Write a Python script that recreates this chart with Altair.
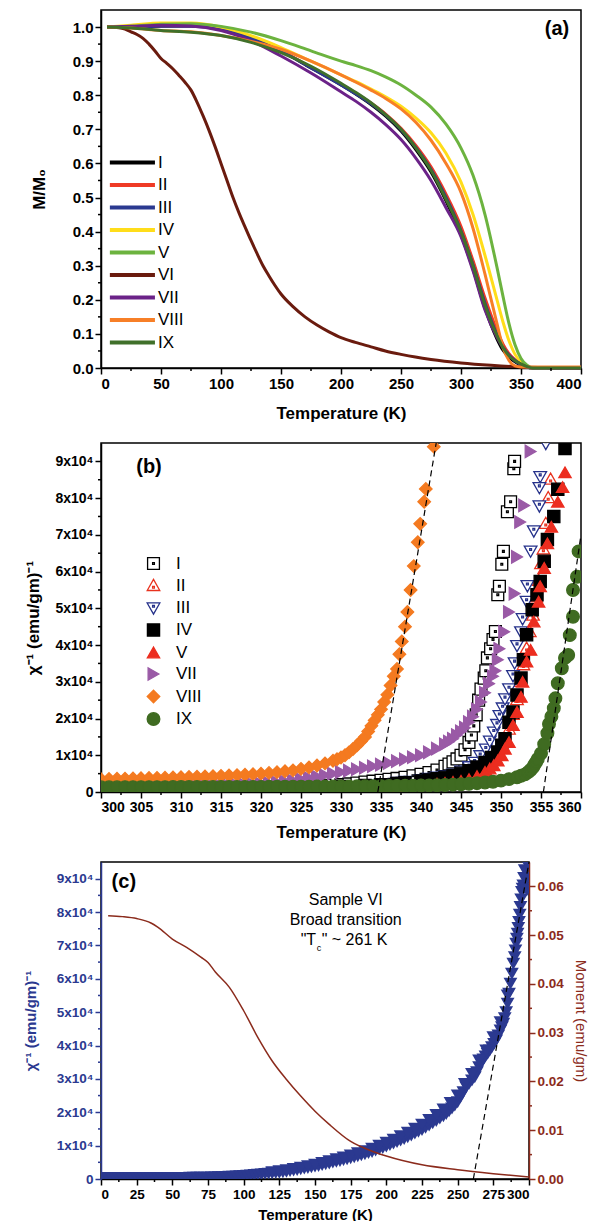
import altair as alt
import pandas as pd

FONT = "Liberation Sans"

# ================= Panel (a): M/M0 vs temperature =================
NAMES_A = ["I", "II", "III", "IV", "V", "VI", "VII", "VIII", "IX"]
COLORS_A = ["#000000", "#ef3a25", "#2a3990", "#ffdd1a", "#6cb33f", "#6a1b0e", "#6b2288", "#f77f27", "#40702a"]
T_A = [5, 25, 50, 75, 100, 125, 150, 175, 200, 212.5, 225, 237.5, 250, 262.5, 275, 287.5, 300, 310, 320, 330, 335, 340,
       345, 350, 355, 360, 380, 400]
M_I = [1.000, 1.000, 1.003, 1.004, 0.995, 0.968, 0.930, 0.880, 0.830, 0.803, 0.773, 0.738, 0.695, 0.640, 0.575, 0.490,
       0.390, 0.290, 0.175, 0.085, 0.052, 0.032, 0.018, 0.008, 0.002, 0.000, 0.000, 0.000]
M_II = [1.000, 1.000, 1.003, 1.003, 0.994, 0.968, 0.930, 0.882, 0.832, 0.806, 0.777, 0.744, 0.703, 0.652, 0.590, 0.510,
        0.415, 0.315, 0.205, 0.110, 0.070, 0.042, 0.024, 0.011, 0.003, 0.000, 0.000, 0.000]
M_III = [1.000, 1.000, 1.002, 1.002, 0.993, 0.967, 0.929, 0.880, 0.830, 0.804, 0.775, 0.741, 0.699, 0.646, 0.582, 0.500,
         0.402, 0.302, 0.190, 0.097, 0.061, 0.037, 0.021, 0.009, 0.002, 0.000, 0.000, 0.000]
M_IV = [1.000, 1.005, 1.012, 1.012, 1.000, 0.975, 0.940, 0.900, 0.860, 0.840, 0.818, 0.795, 0.768, 0.733, 0.690, 0.630,
        0.545, 0.450, 0.330, 0.200, 0.135, 0.080, 0.040, 0.017, 0.005, 0.000, 0.000, 0.000]
M_V = [1.000, 1.002, 1.008, 1.010, 1.002, 0.985, 0.960, 0.930, 0.900, 0.887, 0.872, 0.853, 0.830, 0.800, 0.765, 0.715,
       0.645, 0.565, 0.450, 0.295, 0.210, 0.130, 0.068, 0.028, 0.008, 0.000, 0.000, 0.000]
M_VII = [1.000, 1.002, 1.005, 1.003, 0.990, 0.960, 0.915, 0.865, 0.810, 0.782, 0.750, 0.713, 0.670, 0.615, 0.550, 0.470,
         0.385, 0.285, 0.170, 0.090, 0.060, 0.038, 0.023, 0.011, 0.003, 0.000, 0.000, 0.000]
M_VIII = [1.000, 0.997, 0.990, 0.986, 0.975, 0.958, 0.935, 0.900, 0.860, 0.838, 0.815, 0.790, 0.760, 0.720, 0.668, 0.600,
          0.515, 0.410, 0.275, 0.130, 0.060, 0.022, 0.006, 0.003, 0.003, 0.003, 0.003, 0.003]
M_IX = [1.000, 0.997, 0.990, 0.985, 0.975, 0.955, 0.925, 0.885, 0.835, 0.808, 0.778, 0.742, 0.700, 0.645, 0.580, 0.495,
        0.400, 0.300, 0.185, 0.095, 0.060, 0.036, 0.021, 0.012, 0.004, 0.000, 0.000, 0.000]
T_VI = [5, 15, 20, 25, 30, 35, 40, 45, 50, 55, 60, 65, 70, 75, 80, 85, 90, 95, 100, 105, 110, 115, 120, 125, 130, 135,
        140, 145, 150, 160, 170, 180, 190, 200, 212, 225, 237, 250, 262, 275, 300, 325, 350, 375, 400]
M_VI = [1.000, 0.998, 0.994, 0.986, 0.978, 0.967, 0.950, 0.930, 0.908, 0.893, 0.877, 0.858, 0.838, 0.815, 0.780, 0.740,
        0.697, 0.650, 0.600, 0.550, 0.500, 0.455, 0.414, 0.374, 0.336, 0.300, 0.270, 0.242, 0.217, 0.180, 0.150, 0.126,
        0.106, 0.089, 0.075, 0.062, 0.050, 0.040, 0.032, 0.025, 0.015, 0.008, 0.003, 0.001, 0.000]

XA_MAJOR = [0, 50, 100, 150, 200, 250, 300, 350, 400]
XA_MINOR = [25, 75, 125, 175, 225, 275, 325, 375]
YA_MAJOR = [0.0, 0.1, 0.2, 0.3, 0.4, 0.5, 0.6, 0.7, 0.8, 0.9, 1.0]
YA_MINOR = [0.05, 0.15, 0.25, 0.35, 0.45, 0.55, 0.65, 0.75, 0.85, 0.95]

# ================= Panel (b): inverse susceptibility 300-360 K =================
NAMES_B = ["I", "II", "III", "IV", "V", "VII", "VIII", "IX"]
STROKES_B = ["#000000", "#e8321e", "#25318a", "#000000", "#ec2d1f", "#9a5aa6", "#f47a20", "#3f6b21"]
FILLS_B = ["#ffffff", "#ffffff", "#ffffff", "#000000", "#ec2d1f", "#9a5aa6", "#f47a20", "#3f6b21"]
SQ_DOT = "M-1,-1H1V1H-1Z M-0.15,-0.15H0.15V0.15H-0.15Z"
TU_DOT = "M0,-1.1L1.05,0.75L-1.05,0.75Z M-0.15,0.05H0.15V0.35H-0.15Z"
TD_DOT = "M0,1.1L1.05,-0.75L-1.05,-0.75Z M-0.15,-0.35H0.15V-0.05H-0.15Z"
SHAPES_B = [SQ_DOT, TU_DOT, TD_DOT, "square", "triangle-up", "triangle-right", "diamond", "circle"]
SIZES_B = [140, 160, 160, 140, 160, 160, 220, 160]

B_I = [(300, 1100), (305, 1150), (310, 1200), (315, 1250), (320, 1350), (322, 1450), (324, 1550), (326, 1700), (328, 1850),
       (330, 2000), (331, 2200), (332, 2450), (333, 2700), (334, 2950), (335, 3200), (336, 3450), (337, 3700), (338, 4000),
       (339, 4400), (340, 4800), (341, 5300), (342, 6000), (343, 7000), (343.5, 7600), (344, 8200), (344.5, 9000), (345, 10000),
       (345.5, 11500), (346, 13500), (346.3, 15500), (346.6, 18000), (346.9, 21000), (347.2, 25000), (347.5, 28000),
       (347.9, 31000), (348.1, 33000), (348.3, 36500), (348.7, 39000), (349, 41500), (349.3, 43700), (349.6, 53700),
       (349.8, 56000), (350.1, 62000), (350.3, 65500), (350.8, 76300), (351.2, 79000), (351.6, 88000), (351.7, 90000)]
B_II = [(300, 900), (305, 920), (310, 950), (315, 1000), (320, 1050), (325, 1150), (330, 1300), (333, 1450), (335, 1600),
        (337, 1800), (340, 2100), (342, 2500), (343, 2700), (344, 3000), (345, 3300), (346, 3900), (347, 4800), (348, 6000),
        (348.6, 7200), (349.1, 8500), (349.6, 10000), (350.1, 12000), (350.5, 14000), (351, 17000), (351.5, 21000),
        (352, 25000), (352.4, 30000), (352.8, 34500), (353.2, 39000), (353.6, 43500), (354, 48000), (354.4, 53000),
        (354.7, 57500), (355, 62000), (355.3, 66000), (355.6, 73000), (355.9, 80000), (356.2, 85000)]
B_III = [(300, 1200), (305, 1220), (310, 1250), (315, 1300), (320, 1350), (325, 1500), (330, 1800), (333, 2100), (335, 2400),
         (337, 2750), (338, 3000), (340, 3500), (341, 3800), (342, 4200), (343, 4600), (344, 5000), (345, 5800), (346, 7000),
         (346.7, 8200), (347.4, 10000), (348.1, 11800), (348.6, 14000), (349.1, 16400), (349.5, 18500), (349.8, 20900),
         (350.2, 23000), (350.5, 25500), (351, 28200), (351.5, 31800), (351.7, 35300), (352, 40000), (352.5, 43700),
         (352.7, 47300), (353.2, 52000), (353.3, 56300), (353.7, 65700), (354.1, 71200), (354.8, 78000), (354.8, 83000),
         (354.9, 86000), (355.6, 95000)]
B_IV = [(300, 1000), (305, 1020), (310, 1050), (315, 1100), (320, 1150), (325, 1300), (330, 1500), (333, 1750), (335, 2000),
        (337, 2300), (338, 2500), (340, 3000), (341, 3300), (342, 3600), (343, 4000), (344, 4500), (345, 5100), (346, 5800),
        (347, 6800), (348, 8000), (348.8, 9400), (349.6, 10900), (350.1, 12700), (350.5, 14500), (351, 19000), (351.5, 21800),
        (352, 26400), (352.5, 31000), (352.8, 36000), (353.2, 42800), (353.9, 49600), (354.5, 53700), (354.9, 57300),
        (355.4, 62800), (355.8, 68700), (356.6, 75000), (357.1, 82400), (358, 93500)]
B_V = [(300, 800), (305, 820), (310, 850), (315, 900), (320, 950), (325, 1050), (330, 1200), (333, 1350), (335, 1500),
       (337, 1650), (340, 1900), (342, 2250), (343, 2500), (344, 2750), (345, 3000), (346, 3500), (347, 4300), (348, 5500),
       (348.6, 6400), (349.1, 7300), (349.6, 8600), (350.1, 10000), (350.5, 11800), (351, 13600), (351.5, 18200),
       (352, 21800), (352.5, 25900), (352.7, 30000), (353.2, 35500), (353.7, 38700), (354.1, 46400), (354.7, 51800),
       (354.9, 56000), (355.4, 61000), (355.8, 67700), (356.3, 72200), (357.1, 79000), (357.7, 83000), (358, 87000)]
B_VII = [(300, 1400), (301, 1410), (302, 1420), (303, 1435), (304, 1450), (305, 1465), (306, 1480), (307, 1500), (308, 1520),
         (309, 1540), (310, 1560), (311, 1590), (312, 1620), (313, 1660), (314, 1700), (315, 1750), (316, 1800), (317, 1900),
         (318, 2000), (319, 2150), (320, 2300), (321, 2500), (322, 2700), (323, 2950), (324, 3200), (325, 3550), (326, 3900),
         (327, 4250), (328, 4600), (329, 5000), (330, 5400), (331, 5800), (332, 6200), (333, 6600), (334, 7000), (335, 7450),
         (336, 7900), (337, 8400), (338, 8900), (339, 9450), (340, 10000), (341, 10800), (342, 11800), (343, 13000),
         (343.5, 13700), (344, 14500), (344.5, 15500), (345, 16500), (345.5, 17500), (346, 19000), (346.5, 20500),
         (347, 22500), (347.5, 24500), (348, 27000), (348.5, 29500), (349, 31500), (349.3, 33000), (349.6, 36000),
         (349.8, 39000), (350.4, 43600), (351, 49000), (351.7, 54000), (352, 64000), (352.4, 73500), (352.9, 78000),
         (353.7, 92700)]
B_VIII = [(300, 3500), (301, 3550), (302, 3600), (303, 3650), (304, 3700), (305, 3750), (306, 3800), (307, 3850), (308, 3900),
          (309, 3950), (310, 4000), (311, 4080), (312, 4150), (313, 4230), (314, 4300), (315, 4400), (316, 4500), (317, 4600),
          (318, 4700), (319, 4850), (320, 5000), (321, 5200), (322, 5400), (323, 5650), (324, 5900), (325, 6300), (326, 6700),
          (327, 7200), (328, 7800), (329, 8500), (329.5, 8900), (330, 9400), (330.5, 10000), (331, 10800), (331.5, 11700),
          (332, 12700), (332.5, 13800), (333, 15000), (333.4, 16500), (333.8, 18000), (334.2, 19500), (334.6, 21000),
          (335, 22500), (335.4, 24500), (335.8, 26500), (336.2, 29000), (336.6, 31500), (337, 33500), (337.3, 37500),
          (337.6, 41000), (338, 45000), (338.3, 49000), (338.7, 55000), (339.1, 61500), (339.6, 68000), (339.9, 73000),
          (340.4, 79000), (340.6, 82500), (341.6, 94000)]
B_IX = [(300, 1300), (301, 1300), (302, 1300), (303, 1310), (304, 1310), (305, 1320), (306, 1320), (307, 1330), (308, 1330),
        (309, 1340), (310, 1350), (311, 1350), (312, 1360), (313, 1360), (314, 1370), (315, 1380), (316, 1380), (317, 1390),
        (318, 1390), (319, 1400), (320, 1400), (321, 1410), (322, 1420), (323, 1430), (324, 1440), (325, 1450), (326, 1460),
        (327, 1470), (328, 1480), (329, 1490), (330, 1500), (331, 1520), (332, 1540), (333, 1560), (334, 1580), (335, 1600),
        (336, 1620), (337, 1650), (338, 1680), (339, 1710), (340, 1750), (341, 1800), (342, 1850), (343, 1900), (344, 2000),
        (345, 2100), (346, 2250), (347, 2400), (348, 2600), (349, 2800), (350, 3100), (351, 3500), (352, 4000), (352.5, 4400),
        (353, 4800), (353.4, 5400), (353.7, 6000), (354, 6700), (354.2, 7500), (354.4, 8200), (354.6, 9000), (355, 10500),
        (355.4, 13000), (355.8, 16000), (356, 18500), (356.3, 20500), (356.6, 22800), (356.8, 25500), (357.1, 29600),
        (357.6, 33700), (358, 36500), (358.4, 37300), (358.6, 42700), (359, 47700), (359, 55000), (359.5, 58600),
        (359.7, 65500)]
FIT_B = [("VIII", 334.6, 0), ("VIII", 341.9, 95000), ("IX", 355.3, 0), ("IX", 360.0, 70000)]

XB_MAJOR = [300, 305, 310, 315, 320, 325, 330, 335, 340, 345, 350, 355, 360]
XB_MINOR = [302.5, 307.5, 312.5, 317.5, 322.5, 327.5, 332.5, 337.5, 342.5, 347.5, 352.5, 357.5]
YB_MAJOR = [0, 10000, 20000, 30000, 40000, 50000, 60000, 70000, 80000, 90000]
YB_MINOR = [5000, 15000, 25000, 35000, 45000, 55000, 65000, 75000, 85000]

# ================= Panel (c): sample VI =================
C_T = [0, 2.5, 5, 7.5, 10, 12.5, 15, 17.5, 20, 22.5, 25, 27.5, 30, 32.5, 35, 37.5, 40, 42.5, 45, 47.5, 50, 52.5, 55, 57.5,
       60, 62.5, 65, 67.5, 70, 72.5, 75, 77.5, 80, 82.5, 85, 87.5, 90, 92.5, 95, 97.5, 100, 102.5, 105, 107.5, 110, 112.5,
       115, 117.5, 120, 122.5, 125, 127.5, 130, 132.5, 135, 137.5, 140, 142.5, 145, 147.5, 150, 152.5, 155, 157.5, 160,
       162.5, 165, 167.5, 170, 172.5, 175, 177.5, 180, 182.5, 185, 187.5, 190, 192.5, 195, 197.5, 200, 202.5, 205, 207.5,
       210, 212.5, 215, 217.5, 220, 222.5, 225, 227.5, 230, 232.5, 235, 237.5, 240, 242, 244, 246, 248, 250, 252, 254, 256,
       258, 260, 262, 263.5, 265, 266.5, 268, 269.5, 271, 272.5, 274, 275.5, 277, 278.5, 280, 281, 282, 283, 284, 285, 286,
       287, 288, 289, 290, 290.5, 291, 291.5, 292, 292.5, 293, 293.5, 294, 294.5, 295, 295.5, 296, 296.5, 297, 298, 298.5,
       299]
C_V = [300, 300, 300, 300, 300, 300, 300, 300, 300, 300, 300, 300, 300, 300, 300, 300, 300, 300, 300, 300, 300, 310, 320,
       330, 340, 350, 360, 370, 380, 390, 400, 440, 480, 520, 560, 600, 650, 700, 760, 830, 900, 990, 1080, 1180, 1280, 1390,
       1500, 1600, 1700, 1800, 1900, 2050, 2200, 2370, 2550, 2720, 2900, 3100, 3300, 3500, 3700, 3920, 4150, 4400, 4650,
       4900, 5150, 5400, 5650, 5920, 6200, 6500, 6800, 7100, 7400, 7750, 8100, 8500, 8900, 9300, 9700, 10150, 10600, 11050,
       11500, 12000, 12500, 13050, 13600, 14150, 14700, 15350, 16000, 16700, 17400, 18100, 18800, 19500, 20300, 21100,
       22000, 23000, 24500, 26000, 27500, 28500, 29500, 30500, 32000, 33500, 34700, 35800, 36700, 37500, 38500, 39500,
       40500, 41500, 43000, 44500, 45500, 46500, 48200, 50000, 52500, 55500, 58500, 61500, 64500, 66500, 68500, 70500,
       72000, 73500, 75200, 77000, 79200, 81500, 83800, 86000, 87000, 88000, 90200, 92500, 90000, 86500, 94000]
# upper edge of the scattered triangle band
C_T_UP = [120, 125, 130, 135, 140, 145, 150, 155, 160, 165, 170, 175, 180, 185, 190, 195, 200, 205, 210, 215, 220, 225,
          230, 235, 240, 245, 250, 255, 260, 265, 270, 275, 280, 285]
C_V_UP = [2000, 2300, 2600, 3000, 3400, 3850, 4300, 4800, 5350, 5900, 6450, 7050, 7700, 8350, 9100, 9950, 10850, 11800,
          12800, 13900, 15100, 16300, 17700, 19200, 20800, 22800, 25000, 28500, 31500, 35500, 38500, 42500, 47000, 55000]
C_MOM = [(5, 0.0540), (15, 0.0538), (25, 0.0534), (35, 0.0525), (40, 0.0516), (50, 0.0492), (60, 0.0475), (70, 0.0455),
         (75, 0.0444), (80, 0.0425), (90, 0.0393), (100, 0.0345), (110, 0.0290), (120, 0.0242), (130, 0.0204), (140, 0.0170),
         (150, 0.0139), (160, 0.0112), (175, 0.0077), (190, 0.0057), (200, 0.0047), (225, 0.0029), (250, 0.0019),
         (275, 0.0011), (300, 0.0004)]
FIT_C = [(261, 0), (300, 95000)]
NOTE_C = [(171.5, 83700, "Sample VI"), (171.5, 77500, "Broad transition")]
NOTE_TC = (171.5, 71500)

XC_MAJOR = [0, 25, 50, 75, 100, 125, 150, 175, 200, 225, 250, 275, 300]
XC_MINOR = [12.5, 37.5, 62.5, 87.5, 112.5, 137.5, 162.5, 187.5, 212.5, 237.5, 262.5, 287.5]
YC_MAJOR = [0, 10000, 20000, 30000, 40000, 50000, 60000, 70000, 80000, 90000]
YC_MINOR = [5000, 15000, 25000, 35000, 45000, 55000, 65000, 75000, 85000]
MC_MAJOR = [0.0, 0.01, 0.02, 0.03, 0.04, 0.05, 0.06]
MC_MINOR = [0.005, 0.015, 0.025, 0.035, 0.045, 0.055]

PANEL_LABELS = [("(a)", 380, 0.995), ("(b)", 306, 88500), ("(c)", 16, 89000)]

BLUE = "#2b3990"
BROWN = "#8b2b1c"
SUP_LABELS = "datum.value == 0 ? '0' : (datum.value / 10000) + 'x10\u2074'"
CHI_TITLE = "\u03c7\u207b\u00b9 (emu/gm)\u207b\u00b9"


def axis(**kw):
    base = dict(labelFont=FONT, labelFontWeight="bold", labelFontSize=14, labelColor="black",
                titleFont=FONT, titleFontWeight="bold", titleFontSize=17, titleColor="black",
                domainColor="black", domainWidth=1.5, tickColor="black", tickWidth=1.5, tickSize=6,
                labelPadding=2, grid=False, labelOverlap=False)
    base.update(kw)
    return alt.Axis(**base)


def minor_x(vals, field, enc, h, color="black"):
    return alt.Chart(pd.DataFrame({field: vals})).mark_rule(color=color, strokeWidth=1.5).encode(
        x=enc, y=alt.value(h), y2=alt.value(h + 3))


def minor_y(vals, field, enc, x0, x1, color="black"):
    return alt.Chart(pd.DataFrame({field: vals})).mark_rule(color=color, strokeWidth=1.5).encode(
        y=enc, x=alt.value(x0), x2=alt.value(x1))


def label(txt, xf, yf, xv, yv, xenc, yenc):
    return alt.Chart(pd.DataFrame({xf: [xv], yf: [yv], "t": [txt]})).mark_text(
        font=FONT, fontWeight="bold", fontSize=20, align="center", baseline="middle", color="black"
    ).encode(x=xenc, y=yenc, text="t:N")


# ---------------- build panel (a) ----------------
W_A, H_A = 480, 358
rows = []
for name, vals in zip(["I", "II", "III", "IV", "V", "VII", "VIII", "IX"],
                      [M_I, M_II, M_III, M_IV, M_V, M_VII, M_VIII, M_IX]):
    for t, m in zip(T_A, vals):
        rows.append({"s": name, "T": t, "M": m})
for t, m in zip(T_VI, M_VI):
    rows.append({"s": "VI", "T": t, "M": m})
df_a = pd.DataFrame(rows)
df_a["k"] = df_a["s"].map({n: i for i, n in enumerate(NAMES_A)})
df_a = df_a.sort_values(["k", "T"])

XA = alt.X("T:Q", scale=alt.Scale(domain=[0, 400], nice=False, zero=False),
           axis=axis(title="Temperature (K)", values=XA_MAJOR, titlePadding=14, labelFontSize=15))
YA = alt.Y("M:Q", scale=alt.Scale(domain=[0, 1.05], nice=False),
           axis=axis(title="M/M\u2080", values=YA_MAJOR, format=".1f", titleX=-53, labelFontSize=15))

LEG_A = alt.Legend(title=None, orient="none", legendX=6, legendY=144, symbolType="M-1,0H7", symbolSize=127,
                   symbolStrokeWidth=4, labelFont=FONT, labelFontSize=17, labelColor="black", labelOffset=34,
                   rowPadding=4.5, padding=0)
lines_a = alt.Chart(df_a).mark_line(strokeWidth=3, interpolate="monotone").encode(
    x=XA, y=YA,
    color=alt.Color("s:N", scale=alt.Scale(domain=NAMES_A, range=COLORS_A), legend=LEG_A, sort=NAMES_A),
)
lab = PANEL_LABELS[0]
panel_a = alt.layer(
    lines_a,
    minor_x(XA_MINOR, "T", XA, H_A),
    minor_y(YA_MINOR, "M", YA, 0, -3),
    label(lab[0], "T", "M", lab[1], lab[2], XA, YA),
).properties(width=W_A, height=H_A)

# ---------------- build panel (b) ----------------
W_B, H_B = 480, 349
rows = []
for name, pts in zip(NAMES_B, [B_I, B_II, B_III, B_IV, B_V, B_VII, B_VIII, B_IX]):
    for t, v in pts:
        rows.append({"s": name, "T": t, "v": v})
df_b = pd.DataFrame(rows)
df_fit_b = pd.DataFrame(FIT_B, columns=["f", "T", "v"])

XB = alt.X("T:Q", scale=alt.Scale(domain=[300, 360], nice=False, zero=False),
           axis=axis(title="Temperature (K)", values=XB_MAJOR, titlePadding=10))
YB = alt.Y("v:Q", scale=alt.Scale(domain=[0, 95000], nice=False),
           axis=axis(title=CHI_TITLE, values=YB_MAJOR, labelExpr=SUP_LABELS, titleX=-59))
LEG_B = alt.Legend(title=None, orient="none", legendX=44, legendY=112, symbolSize=160, symbolStrokeWidth=1.3,
                   labelFont=FONT, labelFontSize=17, labelColor="black", labelOffset=14, rowPadding=3.5, padding=0)
pts_b = alt.Chart(df_b).mark_point(filled=False, opacity=1, strokeWidth=1.3, clip=True).encode(
    x=XB, y=YB,
    color=alt.Color("s:N", scale=alt.Scale(domain=NAMES_B, range=STROKES_B), legend=LEG_B, sort=NAMES_B),
    fill=alt.Fill("s:N", scale=alt.Scale(domain=NAMES_B, range=FILLS_B), legend=LEG_B, sort=NAMES_B),
    shape=alt.Shape("s:N", scale=alt.Scale(domain=NAMES_B, range=SHAPES_B), legend=LEG_B, sort=NAMES_B),
    size=alt.Size("s:N", scale=alt.Scale(domain=NAMES_B, range=SIZES_B), legend=None),
)
fit_b = alt.Chart(df_fit_b).mark_line(color="black", strokeWidth=1.2, strokeDash=[6, 4]).encode(
    x=XB, y=YB, detail="f:N")
lab = PANEL_LABELS[1]
panel_b = alt.layer(
    pts_b, fit_b,
    minor_x(XB_MINOR, "T", XB, H_B),
    minor_y(YB_MINOR, "v", YB, 0, -3),
    label(lab[0], "T", "v", lab[1], lab[2], XB, YB),
).properties(width=W_B, height=H_B)

# ---------------- build panel (c) ----------------
W_C, H_C = 428, 317
df_chi = pd.concat([pd.DataFrame({"T": C_T, "v": C_V}), pd.DataFrame({"T": C_T_UP, "v": C_V_UP})],
                   ignore_index=True)
df_mom = pd.DataFrame(C_MOM, columns=["T", "m"])
df_fit_c = pd.DataFrame(FIT_C, columns=["T", "v"])
df_note = pd.DataFrame(NOTE_C, columns=["T", "v", "t"])

blue_axis = dict(domainColor=BLUE, tickColor=BLUE, labelColor=BLUE, titleColor=BLUE)
brown_axis = dict(domainColor=BROWN, tickColor=BROWN, labelColor=BROWN, titleColor=BROWN)
XC = alt.X("T:Q", scale=alt.Scale(domain=[0, 300], nice=False, zero=False),
           axis=axis(title="Temperature (K)", values=XC_MAJOR, titlePadding=7, labelFontSize=13.5,
                     titleFontSize=15))
YC = alt.Y("v:Q", scale=alt.Scale(domain=[0, 95000], nice=False),
           axis=axis(title=CHI_TITLE, values=YC_MAJOR, labelExpr=SUP_LABELS, titleX=-63, labelFontSize=13.5,
                     titleFontSize=15, **blue_axis))
MC = alt.Y("m:Q", scale=alt.Scale(domain=[0, 0.065], nice=False),
           axis=axis(title="Moment (emu/gm)", orient="right", values=MC_MAJOR, format=".2f", labelFontSize=13.5,
                     titleFontSize=15, titleFontWeight="normal", titlePadding=9, **brown_axis))

pts_c = alt.Chart(df_chi).mark_point(shape="triangle-down", filled=True, color=BLUE, size=190, opacity=1,
                                     clip=True).encode(x=XC, y=YC)
fit_c = alt.Chart(df_fit_c).mark_line(color="black", strokeWidth=1.2, strokeDash=[6, 4]).encode(x=XC, y=YC)
note_c = alt.Chart(df_note).mark_text(font=FONT, fontSize=16, color="black", align="center",
                                      baseline="middle").encode(x=XC, y=YC, text="t:N")
df_tc = pd.DataFrame({"T": [NOTE_TC[0]], "v": [NOTE_TC[1]]})
tc1 = alt.Chart(df_tc).mark_text(font=FONT, fontSize=16, color="black", align="left", baseline="middle",
                                 dx=-45, text='"T').encode(x=XC, y=YC)
tc2 = alt.Chart(df_tc).mark_text(font=FONT, fontSize=9, color="black", align="left", baseline="middle",
                                 dx=-29, dy=8, text="c").encode(x=XC, y=YC)
tc3 = alt.Chart(df_tc).mark_text(font=FONT, fontSize=16, color="black", align="left", baseline="middle",
                                 dx=-24, text='" ~ 261 K').encode(x=XC, y=YC)
lab = PANEL_LABELS[2]
left_c = alt.layer(
    pts_c, fit_c, note_c, tc1, tc2, tc3,
    minor_x(XC_MINOR, "T", XC, H_C),
    minor_y(YC_MINOR, "v", YC, 0, -3, color=BLUE),
    label(lab[0], "T", "v", lab[1], lab[2], XC, YC),
)
mom_c = alt.Chart(df_mom).mark_line(color=BROWN, strokeWidth=1.5, interpolate="monotone").encode(x=XC, y=MC)
right_c = alt.layer(mom_c, minor_y(MC_MINOR, "m", MC, W_C, W_C + 3, color=BROWN))
panel_c = alt.layer(left_c, right_c).resolve_scale(y="independent").properties(width=W_C, height=H_C)

chart = alt.concat(panel_a, panel_b, panel_c, columns=1, spacing=17, align="none").resolve_scale(
    color="independent", fill="independent", shape="independent", size="independent"
).properties(
    padding={"left": 22, "top": 9, "right": 0, "bottom": 0}
).configure_view(stroke="black", strokeWidth=1.5)

chart.save("out.html", embed_options={"renderer": "svg", "actions": False})
